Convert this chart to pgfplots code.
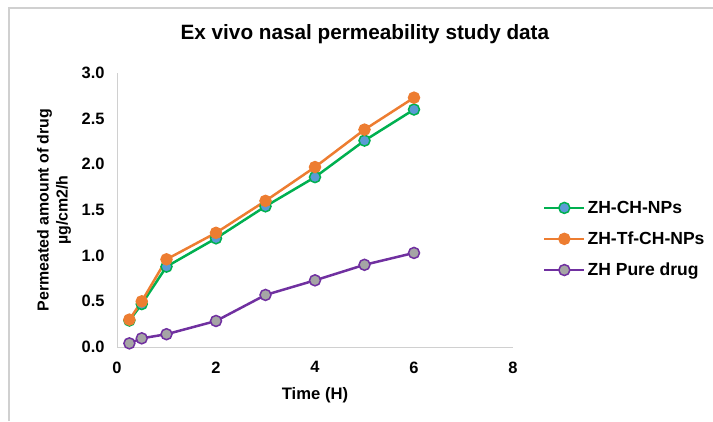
\documentclass[border=0pt]{standalone}
\usepackage{fontspec}
\setmainfont{Liberation Sans}
\usepackage{pgfplots}
\pgfplotsset{compat=1.18}
\definecolor{cgreen}{HTML}{00B050}
\definecolor{corange}{HTML}{ED7D31}
\definecolor{cpurple}{HTML}{7030A0}
\definecolor{cblue}{HTML}{5B9BD5}
\definecolor{cgray}{HTML}{A5A5A5}
\definecolor{caxis}{HTML}{D0D0D0}
\begin{document}
\begin{tikzpicture}[x=1bp,y=1bp]
\useasboundingbox (0,0) rectangle (713,421);
\draw[color=caxis, line width=1.5bp] (9,0) -- (9,413) -- (713,413);
\begin{axis}[
  at={(117bp,74bp)}, anchor=south west,
  scale only axis, width=396bp, height=274bp,
  xmin=0, xmax=8, ymin=0, ymax=3,
  xtick={0,2,4,6,8}, ytick={0,0.5,1,1.5,2,2.5,3},
  axis x line*=bottom, axis y line*=left,
  axis line style={color=caxis, line width=1bp},
  major tick length=0pt,
  /pgf/number format/assume math mode=true,
  tick label style={font=\bfseries\fontsize{16.5}{16.5}\selectfont},
  y tick label style={/pgf/number format/fixed, /pgf/number format/fixed zerofill, /pgf/number format/precision=1, xshift=-9bp},
  x tick label style={yshift=-11bp},
  title={Ex vivo nasal permeability study data},
  title style={at={(axis description cs:0.626,1.102)}, anchor=base, font=\bfseries\fontsize{20.8}{20.8}\selectfont},
  xlabel={Time (H)},
  xlabel style={at={(axis description cs:0.5,-0.19)}, anchor=base, font=\bfseries\fontsize{16.7}{16.7}\selectfont},
  ylabel={Permeated amount of drug\\µg/cm2/h},
  ylabel style={at={(axis description cs:-0.159,0.5)}, anchor=center, rotate=0, align=center, font=\bfseries\fontsize{16}{19}\selectfont},
  legend style={at={(axis description cs:1.068,0.548)}, anchor=north west, draw=none, fill=none,
     font=\bfseries\fontsize{17.6}{17.6}\selectfont, row sep=13bp},
  legend cell align=left,
  legend image code/.code={\draw[mark repeat=2,mark phase=2,#1] plot coordinates {(0bp,0bp) (20bp,0bp) (40bp,0bp)};},
  every axis plot/.append style={line width=2.5bp, mark=*, mark size=5.5bp},
]
\addplot[color=cgreen, mark options={fill=cblue, draw=cgreen, line width=1.5bp}] coordinates {
(0.25,0.29) (0.5,0.47) (1,0.88) (2,1.19) (3,1.54) (4,1.86) (5,2.26) (6,2.60)};
\addlegendentry{ZH-CH-NPs}
\addplot[color=corange, mark options={fill=corange, draw=corange, line width=1.5bp}] coordinates {
(0.25,0.30) (0.5,0.50) (1,0.96) (2,1.25) (3,1.60) (4,1.97) (5,2.38) (6,2.73)};
\addlegendentry{ZH-Tf-CH-NPs}
\addplot[color=cpurple, mark options={fill=cgray, draw=cpurple, line width=1.5bp}] coordinates {
(0.25,0.04) (0.5,0.095) (1,0.14) (2,0.285) (3,0.57) (4,0.73) (5,0.90) (6,1.03)};
\addlegendentry{ZH Pure drug}
\end{axis}
\end{tikzpicture}
\end{document}
